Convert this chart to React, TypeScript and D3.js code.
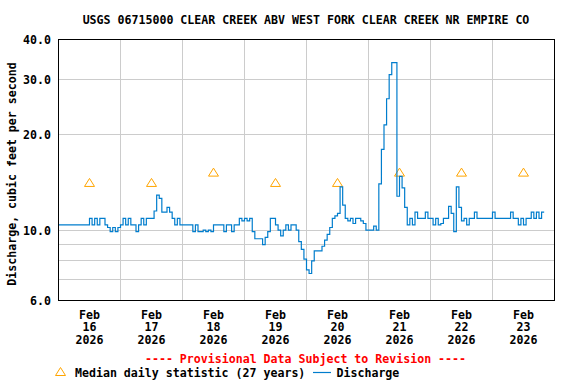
import React, { useEffect, useRef } from 'react';
import * as d3 from 'd3';

// chart text
const title = 'USGS 06715000 CLEAR CREEK ABV WEST FORK CLEAR CREEK NR EMPIRE CO';
const yLabel = 'Discharge, cubic feet per second';
const provisional = '---- Provisional Data Subject to Revision ----';
const medianLabel = 'Median daily statistic (27 years)';
const dischargeLabel = 'Discharge';

// x axis: days of Feb 2026
const dayLabels = ['16', '17', '18', '19', '20', '21', '22', '23'];
const monthLabel = 'Feb';
const yearLabel = '2026';

// y axis (log)
const yTicks = [6, 10, 20, 30, 40];
const yGrid = [7, 8, 9, 10, 20, 30];

// median daily statistic, one per day (plotted at noon)
const medianDaily = [14.1, 14.1, 15.2, 14.1, 14.1, 15.2, 15.2, 15.2];

// hourly discharge, cfs
const feb16 = [10.4, 10.4, 10.4, 10.4, 10.4, 10.4, 10.4, 10.4, 10.4, 10.4, 10.4, 10.4, 10.9, 10.4, 10.9, 10.4, 10.9, 10.9, 10.4, 10.2, 9.9, 10.2, 9.9, 10.2];
const feb17 = [10.4, 10.9, 10.4, 10.9, 10.4, 10.4, 9.9, 10.4, 10.9, 10.4, 10.9, 10.9, 10.9, 11.5, 12.9, 12.6, 11.4, 11.4, 11.8, 11.4, 10.9, 10.4, 10.9, 10.4];
const feb18 = [10.4, 10.4, 10.4, 10.4, 9.9, 10.4, 9.9, 9.9, 10.0, 9.9, 10.0, 9.9, 10.4, 10.4, 10.4, 10.4, 9.9, 10.4, 10.4, 9.9, 10.4, 10.4, 10.9, 10.7];
const feb19 = [10.9, 10.7, 10.9, 9.9, 9.4, 9.4, 9.4, 9.0, 9.5, 9.9, 10.9, 10.9, 10.4, 10.0, 9.6, 10.0, 10.4, 10.0, 10.4, 10.4, 10.0, 9.2, 8.7, 8.1];
const feb20 = [7.5, 7.3, 8.0, 8.6, 8.6, 8.6, 8.9, 9.3, 9.7, 10.2, 10.9, 11.1, 11.3, 13.7, 12.0, 10.9, 10.7, 10.9, 10.5, 10.9, 10.9, 10.7, 10.5, 10.0];
const feb21 = [10.0, 10.0, 10.3, 10.0, 14.0, 18.0, 21.5, 26.0, 31.0, 33.8, 33.8, 12.8, 14.8, 13.6, 11.8, 10.4, 10.9, 10.4, 11.4, 10.9, 10.9, 10.9, 11.4, 10.9];
const feb22 = [10.9, 10.4, 10.9, 10.4, 10.5, 10.9, 10.9, 11.9, 11.3, 9.9, 13.7, 11.8, 10.7, 10.9, 10.4, 10.9, 10.9, 11.4, 10.9, 10.9, 10.9, 10.9, 10.9, 10.9];
const feb23 = [11.4, 10.9, 10.9, 10.9, 10.9, 10.9, 10.9, 11.4, 10.9, 10.9, 10.4, 10.9, 10.4, 10.9, 10.9, 11.4, 10.9, 11.4, 10.9, 11.4, 11.4];
const dischargeDays = [feb16, feb17, feb18, feb19, feb20, feb21, feb22, feb23];

const W = 576;
const H = 384;
const FONT = '"DejaVu Sans Mono", "Liberation Mono", monospace';
const BLUE = '#007dcd';
const ORANGE = '#ffa500';

const day = (d: number, h = 0) => new Date(Date.UTC(2026, 1, 16 + d, h));

function Chart() {
    const ref = useRef<SVGSVGElement | null>(null);

    useEffect(() => {
        const svg = d3.select(ref.current);
        svg.selectAll('*').remove();

        const x = d3.scaleUtc().domain([day(0), day(8)]).range([58.5, 554.5]);
        const y = d3.scaleLog().domain([6, 40]).range([300.5, 39.5]);
        const snap = (v: number) => Math.floor(v) + 0.5;

        const points: { t: Date; v: number }[] = [];
        dischargeDays.forEach((vals, d) => {
            vals.forEach((v, h) => points.push({ t: day(d, h), v }));
        });

        svg.append('rect').attr('width', W).attr('height', H).attr('fill', '#fff');

        // title
        svg.append('text')
            .attr('x', 306).attr('y', 23.5)
            .attr('text-anchor', 'middle')
            .attr('font-family', FONT).attr('font-weight', 'bold').attr('font-size', 11.6)
            .text(title);

        // grid
        const grid = svg.append('g').attr('stroke', '#cccccc').attr('stroke-width', 1).attr('shape-rendering', 'crispEdges');
        grid.selectAll('line.h').data(yGrid).enter().append('line')
            .attr('x1', 58.5).attr('x2', 554.5)
            .attr('y1', d => snap(y(d))).attr('y2', d => snap(y(d)));
        grid.selectAll('line.v').data(d3.range(1, 8)).enter().append('line')
            .attr('y1', 39.5).attr('y2', 300.5)
            .attr('x1', d => x(day(d))).attr('x2', d => x(day(d)));

        // median triangles
        const tri = 'M0,-4.5L5,3.5L-5,3.5Z';
        svg.append('g').selectAll('path').data(medianDaily).enter().append('path')
            .attr('d', tri)
            .attr('transform', (d, i) => `translate(${x(day(i, 12))},${y(d)})`)
            .attr('fill', 'none').attr('stroke', ORANGE).attr('stroke-width', 1);

        // discharge line
        const line = d3.line<{ t: Date; v: number }>()
            .x(d => x(d.t)).y(d => y(d.v))
            .curve(d3.curveStepAfter);
        svg.append('path')
            .datum(points)
            .attr('d', line)
            .attr('fill', 'none').attr('stroke', BLUE).attr('stroke-width', 1.2);

        // frame
        svg.append('rect')
            .attr('x', 58.5).attr('y', 39.5).attr('width', 496).attr('height', 261)
            .attr('fill', 'none').attr('stroke', '#000').attr('shape-rendering', 'crispEdges');

        // y tick labels
        svg.append('g').selectAll('text').data(yTicks).enter().append('text')
            .attr('x', 51).attr('y', d => y(d) + 4.5)
            .attr('text-anchor', 'end')
            .attr('font-family', FONT).attr('font-weight', 'bold').attr('font-size', 11.6)
            .text(d => d.toFixed(1));

        // y label
        svg.append('text')
            .attr('transform', 'translate(16,174) rotate(-90)')
            .attr('text-anchor', 'middle')
            .attr('font-family', FONT).attr('font-weight', 'bold').attr('font-size', 11.6)
            .text(yLabel);

        // x tick labels
        const xl = svg.append('g').attr('font-family', FONT).attr('font-weight', 'bold')
            .attr('font-size', 11.6).attr('text-anchor', 'middle');
        dayLabels.forEach((lab, i) => {
            const cx = x(day(i, 12));
            xl.append('text').attr('x', cx).attr('y', 318.5).text(monthLabel);
            xl.append('text').attr('x', cx).attr('y', 331).text(lab);
            xl.append('text').attr('x', cx).attr('y', 344).text(yearLabel);
        });

        // provisional note
        svg.append('text')
            .attr('x', 305.5).attr('y', 363)
            .attr('text-anchor', 'middle').attr('fill', '#ff0000')
            .attr('font-family', FONT).attr('font-weight', 'bold').attr('font-size', 11.6)
            .text(provisional);

        // legend
        svg.append('path').attr('d', tri)
            .attr('transform', 'translate(60.5,372)')
            .attr('fill', 'none').attr('stroke', ORANGE);
        svg.append('text').attr('x', 75).attr('y', 377)
            .attr('font-family', FONT).attr('font-weight', 'bold').attr('font-size', 11.6)
            .text(medianLabel);
        svg.append('line').attr('x1', 313).attr('x2', 331).attr('y1', 372.5).attr('y2', 372.5)
            .attr('stroke', BLUE).attr('stroke-width', 1.2);
        svg.append('text').attr('x', 336.5).attr('y', 377)
            .attr('font-family', FONT).attr('font-weight', 'bold').attr('font-size', 11.6)
            .text(dischargeLabel);
    }, []);

    return (
        <svg
            ref={ref}
            width={W}
            height={H}
            style={{ position: 'absolute', left: 0, top: 0, display: 'block' }}
        />
    );
}

export default function App() {
    return <Chart />;
}
